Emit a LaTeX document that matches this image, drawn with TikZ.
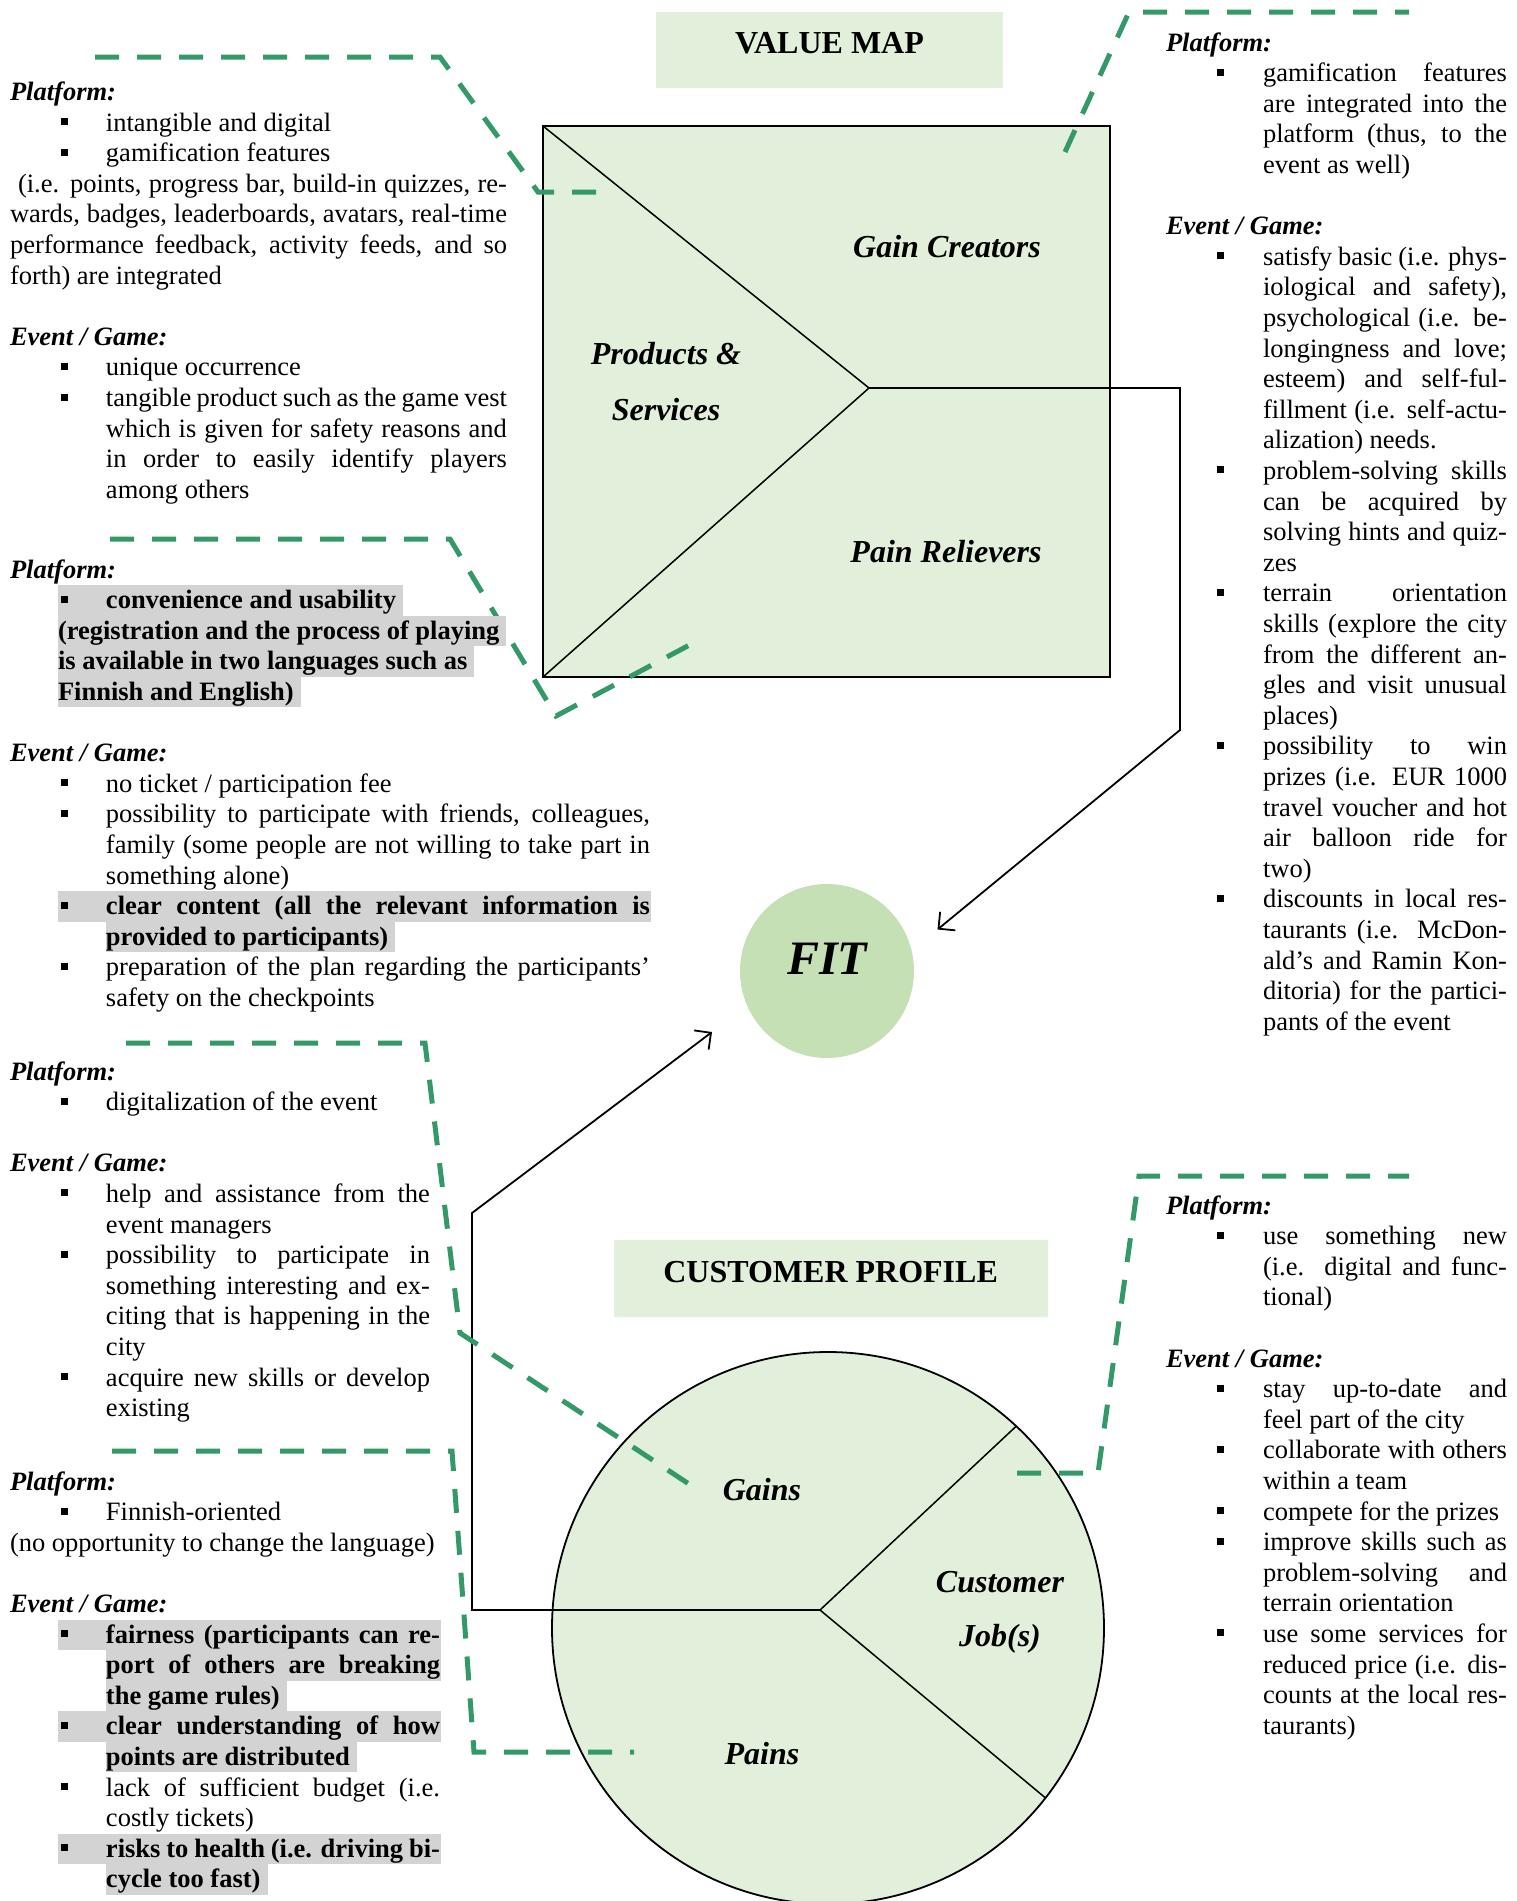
\documentclass[tikz,border=0pt]{standalone}
\usepackage{fontspec}
\setmainfont{Liberation Serif}
\usetikzlibrary{arrows.meta}

\definecolor{lightgreen}{RGB}{226,239,218}
\definecolor{fitgreen}{RGB}{197,224,180}
\definecolor{dashgreen}{RGB}{52,153,104}
\definecolor{hlgray}{RGB}{211,211,211}

% ---- column text machinery -------------------------------------------
\newlength\colW  % width of a text column
\newlength\bulO  % offset of the square bullet
\newlength\txtO  % offset of the item text
\newcommand\sqbul{\raisebox{6pt}{\rule{7pt}{7pt}}}
\newcommand\hlbox[1]{{\setlength{\fboxsep}{0pt}\colorbox{hlgray}{\rule[-7pt]{0pt}{30.5pt}#1}}}
\newcommand\bulgap{\hskip\dimexpr\txtO-\bulO-7pt\relax}
\newcommand\restw{\dimexpr\colW-\txtO\relax}
% headings, blank line
\newcommand\ihead[1]{\noindent\textbf{\textit{#1}}\par}
\newcommand\blankln{\noindent\mbox{}\par}
% bullet lines (justified / ragged)
\newcommand\bjust[1]{\noindent\hbox to\colW{\hskip\bulO\relax\sqbul\bulgap\makebox[\restw][s]{#1}\hss}\par}
\newcommand\bleft[1]{\noindent\hbox to\colW{\hskip\bulO\relax\sqbul\bulgap#1\hss}\par}
% continuation lines under an item
\newcommand\cjust[1]{\noindent\hbox to\colW{\hskip\txtO\relax\makebox[\restw][s]{#1}\hss}\par}
\newcommand\cleft[1]{\noindent\hbox to\colW{\hskip\txtO\relax#1\hss}\par}
% lines with an explicit offset
\newcommand\ojust[2]{\noindent\hbox to\colW{\hskip#1\relax\makebox[\dimexpr\colW-#1\relax][s]{#2}\hss}\par}
\newcommand\oleft[2]{\noindent\hbox to\colW{\hskip#1\relax#2\hss}\par}
% highlighted bold lines
\newcommand\hbjust[1]{\noindent\hbox to\colW{\hskip\dimexpr\bulO-3pt\relax\hlbox{\hskip3pt\sqbul\bulgap\makebox[\restw][s]{\bfseries#1}\hskip1pt}\hss}\par}
\newcommand\hbleft[1]{\noindent\hbox to\colW{\hskip\dimexpr\bulO-3pt\relax\hlbox{\hskip3pt\sqbul\bulgap\bfseries#1\hskip7pt}\hss}\par}
\newcommand\hcjust[1]{\noindent\hbox to\colW{\hskip\txtO\relax\hlbox{\makebox[\restw][s]{\bfseries#1}\hskip1pt}\hss}\par}
\newcommand\hcleft[1]{\noindent\hbox to\colW{\hskip\txtO\relax\hlbox{\bfseries#1\hskip7pt}\hss}\par}
\newcommand\holeft[2]{\noindent\hbox to\colW{\hskip#1\relax\hlbox{\bfseries#2\hskip7pt}\hss}\par}
% a text column: width, bullet offset, text offset, lines
\newcommand\txtblock[4]{\parbox[t]{#1}{\setlength\colW{#1}\setlength\bulO{#2}\setlength\txtO{#3}%
  \fontsize{26.5pt}{30.6pt}\selectfont\setlength\parskip{0pt}\setlength\parindent{0pt}#4}}

\newcommand\titlefont{\fontsize{32pt}{38pt}\selectfont\bfseries}
\newcommand\lblfont{\fontsize{32pt}{38pt}\selectfont\bfseries\itshape}
\newcommand\fitfont{\fontsize{48pt}{56pt}\selectfont\bfseries\itshape}

\begin{document}
\begin{tikzpicture}[x=1pt,y=-1pt,
  callout/.style={draw=dashgreen,line width=5pt,dash pattern=on 24pt off 18pt},
  divider/.style={draw=black,line width=1.5pt},
  link/.style={draw=black,line width=1.8pt,line join=miter,-{Straight Barb[length=12pt,width=24pt]}},
  lbl/.style={font=\lblfont,anchor=base,inner sep=0pt},
  textblk/.style={anchor=base west,inner sep=0pt,outer sep=0pt},
  titlebox/.style={fill=lightgreen,inner sep=0pt,outer sep=0pt,anchor=north west,font=\titlefont,text height=22pt}]

\useasboundingbox (0,0) rectangle (1517,1901);
\clip (0,0) rectangle (1517,1901);

% ---- value map ---------------------------------------------------------
\node[titlebox,minimum width=347pt,minimum height=75.5pt,text depth=14.5pt] (vmtitle) at (656,12) {VALUE MAP};
\node[draw,line width=1.8pt,fill=lightgreen,minimum width=567pt,minimum height=551pt,
      inner sep=0pt,outer sep=0pt,anchor=north west] (vm) at (543,126) {};
\coordinate (vmv) at (869,388);
\draw[divider] (vm.north west) -- (vmv) -- (vm.south west);

% ---- fit ---------------------------------------------------------------
\node[circle,fill=fitgreen,minimum size=174pt,inner sep=0pt,font=\fitfont,
      text height=33pt,text depth=27pt] (fit) at (827,971) {FIT};

% ---- customer profile --------------------------------------------------
\node[titlebox,minimum width=434pt,minimum height=77pt,text depth=15pt] (cptitle) at (613.6,1240) {CUSTOMER PROFILE};
\node[circle,draw,line width=1.8pt,fill=lightgreen,minimum size=552pt,inner sep=0pt,outer sep=0pt] (cp) at (828,1628) {};
\coordinate (cpv) at (820,1610);
\draw[divider] (cpv) -- (cp.47.1);
\draw[divider] (cpv) -- (cp.-38.7);

% ---- links into the fit ------------------------------------------------
\coordinate (k1) at (1180,388);
\coordinate (k2) at (1180,730);
\coordinate (fitin1) at (937.5,929.5);
\draw[link] (vmv) -- (k1) -- (k2) -- (fitin1);
\coordinate (k3) at (472,1610);
\coordinate (k4) at (472,1213);
\coordinate (fitin2) at (712,1032);
\draw[link] (cpv) -- (k3) -- (k4) -- (fitin2);

% ---- section labels ----------------------------------------------------
\node[lbl] (gc) at (947,257) {Gain Creators};
\node[lbl] (ps) at (666,364) {\parbox[t]{260pt}{\fontsize{32pt}{56pt}\selectfont\centering Products \&\\Services}};
\node[lbl] (pr) at (946,562) {Pain Relievers};
\node[lbl] (gains) at (762,1500) {Gains};
\node[lbl] (jobs) at (1000,1592) {\parbox[t]{260pt}{\fontsize{32pt}{54pt}\selectfont\centering Customer\\Job(s)}};
\node[lbl] (pains) at (762,1764) {Pains};

% ---- dashed call-outs --------------------------------------------------
\coordinate (a1) at (95,57);   \coordinate (a2) at (440,57);
\coordinate (a3) at (538,192); \coordinate (a4) at (601,192);
\draw[callout] (a1) -- (a2) -- (a3) -- (a4);
\coordinate (b1) at (110,539); \coordinate (b2) at (450,539);
\coordinate (b3) at (556,716); \coordinate (b4) at (697,641);
\draw[callout] (b1) -- (b2) -- (b3) -- (b4);
\coordinate (c1) at (126,1043); \coordinate (c2) at (425,1043);
\coordinate (c3) at (460,1333); \coordinate (c4) at (692,1486);
\draw[callout] (c1) -- (c2) -- (c3) -- (c4);
\coordinate (e1) at (112,1451); \coordinate (e2) at (452,1451);
\coordinate (e3) at (474,1752); \coordinate (e4) at (634,1752);
\draw[callout] (e1) -- (e2) -- (e3) -- (e4);
\coordinate (f1) at (1065,152); \coordinate (f2) at (1129,12);
\coordinate (f3) at (1409,12);
\draw[callout] (f1) -- (f2) -- (f3);
\coordinate (g1) at (1017,1473); \coordinate (g2) at (1098,1473);
\coordinate (g3) at (1139,1176); \coordinate (g4) at (1409,1176);
\draw[callout] (g1) -- (g2) -- (g3) -- (g4);

% ---- left column -------------------------------------------------------
\node[textblk] (left1) at (10,100.5) {\txtblock{497pt}{51pt}{96pt}{%
\ihead{Platform:}
\bleft{intangible and digital}
\bleft{gamification features}
\ojust{8pt}{(i.e. points, progress bar, build-in quizzes, re-}
\ojust{0pt}{wards, badges, leaderboards, avatars, real-time}
\ojust{0pt}{performance feedback, activity feeds, and so}
\oleft{0pt}{forth) are integrated}
\blankln
\ihead{Event / Game:}
\bleft{unique occurrence}
\bjust{tangible product such as the game vest}
\cjust{which is given for safety reasons and}
\cjust{in order to easily identify players}
\cleft{among others}
}};

\node[textblk] (left2) at (10,578) {\txtblock{640pt}{51pt}{96pt}{%
\ihead{Platform:}
\hbleft{convenience and usability}
\holeft{48pt}{(registration and the process of playing}
\holeft{48pt}{is available in two languages such as}
\holeft{48pt}{Finnish and English)}
\blankln
\ihead{Event / Game:}
\bleft{no ticket / participation fee}
\bjust{possibility to participate with friends, colleagues,}
\cjust{family (some people are not willing to take part in}
\cleft{something alone)}
\hbjust{clear content (all the relevant information is}
\hcleft{provided to participants)}
\bjust{preparation of the plan regarding the participants’}
\cleft{safety on the checkpoints}
}};

\node[textblk] (left3) at (10,1080) {\txtblock{420pt}{51pt}{96pt}{%
\ihead{Platform:}
\bleft{digitalization of the event}
\blankln
\ihead{Event / Game:}
\bjust{help and assistance from the}
\cleft{event managers}
\bjust{possibility to participate in}
\cjust{something interesting and ex-}
\cjust{citing that is happening in the}
\cleft{city}
\bjust{acquire new skills or develop}
\cleft{existing}
}};

\node[textblk] (left4) at (10,1490) {\txtblock{430pt}{51pt}{96pt}{%
\ihead{Platform:}
\bleft{Finnish-oriented}
\oleft{0pt}{(no opportunity to change the language)}
\blankln
\ihead{Event / Game:}
\hbjust{fairness (participants can re-}
\hcjust{port of others are breaking}
\hcleft{the game rules)}
\hbjust{clear understanding of how}
\hcleft{points are distributed}
\bjust{lack of sufficient budget (i.e.}
\cleft{costly tickets)}
\hbjust{risks to health (i.e. driving bi-}
\hcleft{cycle too fast)}
}};

% ---- right column ------------------------------------------------------
\node[textblk] (right1) at (1166,51) {\txtblock{341pt}{51pt}{97pt}{%
\ihead{Platform:}
\bjust{gamification features}
\cjust{are integrated into the}
\cjust{platform (thus, to the}
\cleft{event as well)}
\blankln
\ihead{Event / Game:}
\bjust{satisfy basic (i.e. phys-}
\cjust{iological and safety),}
\cjust{psychological (i.e. be-}
\cjust{longingness and love;}
\cjust{esteem) and self-ful-}
\cjust{fillment (i.e. self-actu-}
\cleft{alization) needs.}
\bjust{problem-solving skills}
\cjust{can be acquired by}
\cjust{solving hints and quiz-}
\cleft{zes}
\bjust{terrain orientation}
\cjust{skills (explore the city}
\cjust{from the different an-}
\cjust{gles and visit unusual}
\cleft{places)}
\bjust{possibility to win}
\cjust{prizes (i.e. EUR 1000}
\cjust{travel voucher and hot}
\cjust{air balloon ride for}
\cleft{two)}
\bjust{discounts in local res-}
\cjust{taurants (i.e. McDon-}
\cjust{ald’s and Ramin Kon-}
\cjust{ditoria) for the partici-}
\cleft{pants of the event}
}};

\node[textblk] (right2) at (1166,1214) {\txtblock{341pt}{51pt}{97pt}{%
\ihead{Platform:}
\bjust{use something new}
\cjust{(i.e. digital and func-}
\cleft{tional)}
\blankln
\ihead{Event / Game:}
\bjust{stay up-to-date and}
\cleft{feel part of the city}
\bjust{collaborate with others}
\cleft{within a team}
\bleft{compete for the prizes}
\bjust{improve skills such as}
\cjust{problem-solving and}
\cleft{terrain orientation}
\bjust{use some services for}
\cjust{reduced price (i.e. dis-}
\cjust{counts at the local res-}
\cleft{taurants)}
}};

\end{tikzpicture}
\end{document}
